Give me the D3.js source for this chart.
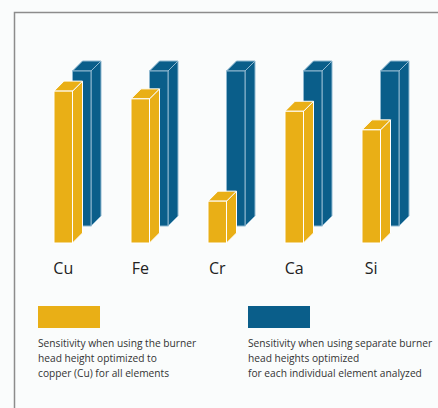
<!DOCTYPE html>
<html><head><meta charset="utf-8">
<script src="https://cdn.jsdelivr.net/npm/d3@7"></script>
<style>html,body{margin:0;padding:0;background:#fafcfc;}svg{display:block;}</style>
</head><body>
<svg id="c" width="438" height="408"></svg>
<script>
const categories = ["Cu","Fe","Cr","Ca","Si"];
const goldValues = [0.98, 0.93, 0.27, 0.85, 0.73];   // burner head optimized to Cu
const blueValues = [1.0, 1.0, 1.0, 1.0, 1.0];        // separate optimized heights
const legendGold = ["Sensitivity when using the burner","head height optimized to","copper (Cu) for all elements"];
const legendBlue = ["Sensitivity when using separate burner","head heights optimized","for each individual element analyzed"];

const gold = "#e9af16", blue = "#0a5e8a";
const svg = d3.select("#c");
svg.append("rect").attr("width",438).attr("height",408).attr("fill","#fafcfc");
svg.append("path").attr("d","M14.5,408V12.5H438").attr("fill","none").attr("stroke","#8c8c8c").attr("stroke-width",1.5);

const x = d3.scalePoint().domain(categories).range([54, 362]);
const bw = 18.5;
const base = 243, blueShift = {dx: 18.5, dy: -17};
const y = d3.scaleLinear().domain([0,1]).range([0,155]);
const dx = 10, dy = 10;

function bar(g, x0, yb, h, color, edge){
  const x1 = x0 + bw, yt = yb - h;
  g.append("path").attr("d",`M${x1},${yb}L${x1+dx},${yb-dy}L${x1+dx},${yt-dy}L${x1},${yt}Z`)
    .attr("fill",color).attr("stroke",edge).attr("stroke-width",1);
  g.append("path").attr("d",`M${x0},${yt}L${x0+dx},${yt-dy}L${x1+dx},${yt-dy}L${x1},${yt}Z`)
    .attr("fill",color).attr("stroke",edge).attr("stroke-width",1);
  g.append("rect").attr("x",x0).attr("y",yt).attr("width",bw).attr("height",h)
    .attr("fill",color).attr("stroke",edge).attr("stroke-width",1);
}

const gBlue = svg.append("g"), gGold = svg.append("g");
categories.forEach((c,i)=>{
  bar(gBlue, x(c)+blueShift.dx, base+blueShift.dy, y(blueValues[i]), blue, "#8fb8d0");
});
categories.forEach((c,i)=>{
  bar(gGold, x(c), base, y(goldValues[i]), gold, "#ffffff");
});
svg.selectAll("text.cat").data(categories).enter().append("text").attr("class","cat")
  .attr("x",d=>x(d)+bw/2).attr("y",274).attr("text-anchor","middle")
  .attr("font-family","Open Sans").attr("font-size",16).attr("fill","#222").text(d=>d);

function legend(x0, color, lines){
  svg.append("rect").attr("x",x0).attr("y",306).attr("width",62).attr("height",22).attr("fill",color);
  svg.append("g").selectAll("text").data(lines).enter().append("text")
    .attr("x",x0).attr("y",(d,i)=>347+i*15)
    .attr("font-family","Open Sans").attr("font-size",10.2).attr("fill","#333").text(d=>d);
}
legend(38, gold, legendGold);
legend(248, blue, legendBlue);
</script>
</body></html>
